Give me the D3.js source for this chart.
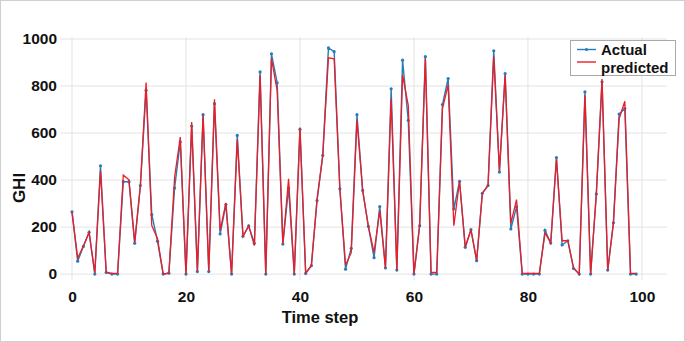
<!DOCTYPE html>
<html><head><meta charset="utf-8">
<script src="https://cdn.jsdelivr.net/npm/d3@7"></script>
<style>body{margin:0;background:#fff}svg{display:block}text{font-family:"Liberation Sans",Arial,sans-serif;font-weight:bold;fill:#111}</style>
</head><body><svg id="c" width="685" height="342"></svg>
<script>
const steps = d3.range(0, 100);
const actual = [265,55,118,178,0,461,7,0,0,393,393,131,377,782,253,140,0,4,366,562,
0,630,11,678,11,725,171,296,0,590,161,205,131,860,0,937,814,128,366,0,
616,3,36,313,505,962,946,363,21,110,678,356,203,70,287,26,788,17,910,654,
0,206,925,0,0,721,832,277,395,114,189,57,344,377,950,434,853,192,287,0,
0,0,0,186,132,496,124,142,24,0,775,0,341,818,17,218,681,704,0,0];
const predicted = [265,68,120,178,5,440,8,3,3,421,401,135,377,815,206,152,0,5,412,583,
0,647,12,676,12,744,185,303,0,572,161,205,121,846,0,917,780,128,405,0,
623,5,36,320,505,920,916,363,38,92,654,356,203,92,270,26,747,17,846,718,
0,206,917,7,7,704,804,206,395,114,189,57,344,377,925,440,846,216,317,3,
3,3,3,175,132,491,142,142,27,0,761,0,341,830,17,218,661,735,3,3];
const xTicks = [0,20,40,60,80,100];
const yTicks = [0,200,400,600,800,1000];
const seriesNames = ["Actual","predicted"];
const colors = ["#2a7bb6","#ee1c25"];

const svg = d3.select("#c");
svg.append("rect").attr("x",0.5).attr("y",0.5).attr("width",684).attr("height",341)
  .attr("fill","#fff").attr("stroke","#cfcfcf");
const x = d3.scaleLinear().domain([-2,104.4]).range([60.6,667]);
const y = d3.scaleLinear().domain([-25,1000]).range([280,39]);

// grid
svg.append("g").selectAll("line").data(yTicks).join("line")
  .attr("x1",x.range()[0]).attr("x2",x.range()[1])
  .attr("y1",d=>y(d)).attr("y2",d=>y(d)).attr("stroke","#e3e3e3");
svg.append("g").selectAll("line").data(xTicks).join("line")
  .attr("x1",d=>x(d)).attr("x2",d=>x(d))
  .attr("y1",y(-25)).attr("y2",y(1000)-2).attr("stroke","#e3e3e3");

// axes labels via d3 axes
const xa = svg.append("g").attr("transform",`translate(0,${y(0)+8})`)
  .call(d3.axisBottom(x).tickValues(xTicks).tickFormat(d3.format("d")).tickSize(0).tickPadding(0));
xa.select(".domain").remove();
xa.selectAll("text").attr("font-size",15.5).attr("dy","0.71em").attr("y",9).attr("font-family","Liberation Sans, Arial").attr("font-weight","bold").attr("fill","#111");
const ya = svg.append("g").attr("transform",`translate(57,0)`)
  .call(d3.axisLeft(y).tickValues(yTicks).tickFormat(d3.format("d")).tickSize(0).tickPadding(0));
ya.select(".domain").remove();
ya.selectAll("text").attr("font-size",15.5).attr("dy","0.3em").attr("font-family","Liberation Sans, Arial").attr("font-weight","bold").attr("fill","#111");

svg.append("text").attr("x",320).attr("y",323).attr("text-anchor","middle").attr("font-size",16.5).text("Time step");
svg.append("text").attr("transform","translate(25,188) rotate(-90)").attr("text-anchor","middle").attr("font-size",17).text("GHI");

const line = d3.line().x((d,i)=>x(steps[i])).y(d=>y(d));
svg.append("path").datum(actual).attr("d",line).attr("fill","none").attr("stroke",colors[0]).attr("stroke-width",1.4);
svg.append("g").selectAll("circle").data(actual).join("circle")
  .attr("cx",(d,i)=>x(steps[i])).attr("cy",d=>y(d)).attr("r",1.6).attr("fill",colors[0]);
svg.append("path").datum(predicted).attr("d",line).attr("fill","none").attr("stroke",colors[1]).attr("stroke-width",1.3);

// legend
const lg = svg.append("g");
lg.append("rect").attr("x",570.5).attr("y",40.5).attr("width",105).attr("height",35).attr("fill","#fff").attr("stroke","#aaa");
lg.append("line").attr("x1",577).attr("x2",596).attr("y1",49.5).attr("y2",49.5).attr("stroke",colors[0]).attr("stroke-width",1.4);
lg.append("circle").attr("cx",586.5).attr("cy",49.5).attr("r",1.6).attr("fill",colors[0]);
lg.append("line").attr("x1",577).attr("x2",596).attr("y1",62).attr("y2",62).attr("stroke",colors[1]).attr("stroke-width",1.4);
lg.append("text").attr("x",601).attr("y",54.5).attr("font-size",15).text(seriesNames[0]);
lg.append("text").attr("x",601).attr("y",73).attr("font-size",15).text(seriesNames[1]);
</script></body></html>
